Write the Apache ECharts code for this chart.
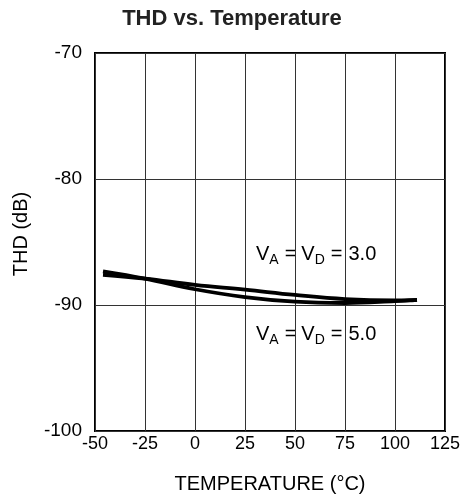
<!DOCTYPE html>
<html>
<head>
<meta charset="utf-8">
<script src="https://cdn.jsdelivr.net/npm/echarts@6/dist/echarts.min.js"></script>
<style>html,body{margin:0;padding:0;background:#fff}#c{width:464px;height:499px}</style>
</head>
<body>
<div id="c"></div>
<script>
const temps = [-46, -25, 0, 25, 50, 75, 100, 111];
const thd3v = [-87.6, -87.91, -88.4, -88.78, -89.2, -89.53, -89.64, -89.6];
const thd5v = [-87.33, -87.91, -88.75, -89.37, -89.74, -89.84, -89.7, -89.6];
const xTicks = [-50, -25, 0, 25, 50, 75, 100, 125];
const yTicks = [-100, -90, -80, -70];

const chart = echarts.init(document.getElementById('c'));
const font = 'Liberation Sans, Arial, sans-serif';
const rich = {
  n: {fontSize: 20, fontFamily: font, color: '#000'},
  s: {fontSize: 14, fontFamily: font, color: '#000', padding: [12, 0, 0, 0]},
  e1: {fontSize: 20, fontFamily: font, color: '#000', padding: [0, 5, 0, 6]},
  e2: {fontSize: 20, fontFamily: font, color: '#000', padding: [0, 6, 0, 6]}
};
chart.setOption({
  animation: false,
  title: {
    text: 'THD vs. Temperature', left: 'center', top: 3,
    textStyle: {fontSize: 22, fontWeight: 'bold', fontFamily: font, color: '#222'}
  },
  grid: {left: 95, right: 19, top: 53, bottom: 67, show: true, borderColor: '#000', borderWidth: 2},
  xAxis: {
    type: 'value', min: -50, max: 125, interval: 25,
    name: 'TEMPERATURE (°C)', nameLocation: 'middle', nameGap: 43,
    nameTextStyle: {fontSize: 20, fontFamily: font, color: '#000'},
    axisLine: {show: false}, axisTick: {show: false},
    axisLabel: {fontSize: 18, fontFamily: font, color: '#000', margin: 4,
      formatter: v => xTicks.includes(v) ? String(v) : ''},
    splitLine: {show: true, lineStyle: {color: '#333', width: 1}}
  },
  yAxis: {
    type: 'value', min: -100, max: -70, interval: 10,
    name: 'THD (dB)', nameLocation: 'middle', nameGap: 64,
    nameTextStyle: {fontSize: 20, fontFamily: font, color: '#000', padding: [0, 0, 0, 16]},
    axisLine: {show: false}, axisTick: {show: false},
    axisLabel: {fontSize: 19, fontFamily: font, color: '#000', margin: 13,
      formatter: v => yTicks.includes(v) ? String(v) : ''},
    splitLine: {show: true, lineStyle: {color: '#333', width: 1}}
  },
  series: [
    {type: 'line', name: '3.0', smooth: 0.4, symbol: 'none',
     lineStyle: {color: '#000', width: 3.8},
     data: temps.map((t, i) => [t, thd3v[i]])},
    {type: 'line', name: '5.0', smooth: 0.4, symbol: 'none',
     lineStyle: {color: '#000', width: 3.8},
     data: temps.map((t, i) => [t, thd5v[i]])}
  ],
  graphic: [
    {type: 'text', left: 256, top: 241, style: {
      text: '{n|V}{s|A}{e1|=}{n|V}{s|D}{e2|=}{n|3.0}', rich: rich, backgroundColor: '#fff'}},
    {type: 'text', left: 256, top: 321, style: {
      text: '{n|V}{s|A}{e1|=}{n|V}{s|D}{e2|=}{n|5.0}', rich: rich, backgroundColor: '#fff'}}
  ]
});
</script>
</body>
</html>
